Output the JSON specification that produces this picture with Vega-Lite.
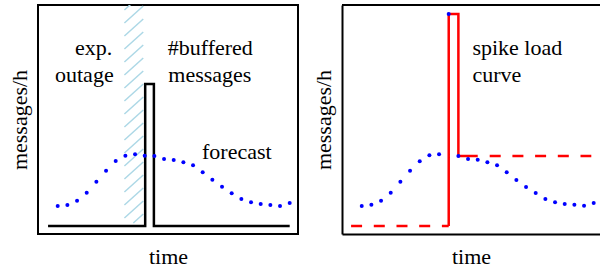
{
  "$schema": "https://vega.github.io/schema/vega-lite/v6.json",
  "background": "white",
  "padding": {"left": 7, "top": 4, "right": 0, "bottom": 0},
  "spacing": 13,
  "config": {
    "font": "Liberation Serif",
    "axis": {"grid": false, "labels": false, "ticks": false, "domain": false, "titleFont": "Liberation Serif", "titleFontSize": 22, "titleFontWeight": "normal", "titleColor": "black"},
    "axisX": {"titlePadding": 12},
    "axisY": {"titlePadding": 7},
    "text": {"font": "Liberation Serif", "fontSize": 22, "color": "black", "align": "left", "baseline": "alphabetic"}
  },
  "datasets": {
    "hatch": [
      {"x1": 7.82, "y1": 11, "x2": 8.85, "y2": 20},
      {"x1": 6.9, "y1": 16, "x2": 8.85, "y2": 33},
      {"x1": 6.9, "y1": 29, "x2": 8.85, "y2": 46},
      {"x1": 6.9, "y1": 42, "x2": 8.85, "y2": 59},
      {"x1": 6.9, "y1": 55, "x2": 8.85, "y2": 72},
      {"x1": 6.9, "y1": 68, "x2": 8.85, "y2": 85},
      {"x1": 6.9, "y1": 81, "x2": 8.85, "y2": 98},
      {"x1": 6.9, "y1": 94, "x2": 8.85, "y2": 111},
      {"x1": 6.9, "y1": 107, "x2": 8.85, "y2": 124},
      {"x1": 6.9, "y1": 120, "x2": 8.85, "y2": 137},
      {"x1": 6.9, "y1": 133, "x2": 8.85, "y2": 150},
      {"x1": 6.9, "y1": 146, "x2": 8.85, "y2": 163},
      {"x1": 6.9, "y1": 159, "x2": 8.85, "y2": 176},
      {"x1": 6.9, "y1": 172, "x2": 8.85, "y2": 189},
      {"x1": 6.9, "y1": 185, "x2": 8.85, "y2": 202},
      {"x1": 6.9, "y1": 198, "x2": 8.85, "y2": 215},
      {"x1": 6.9, "y1": 211, "x2": 8.85, "y2": 228},
      {"x1": 6.9, "y1": 224, "x2": 8.85, "y2": 241}
    ],
    "buffered": [
      {"i": 0, "t": -1, "v": 8},
      {"i": 1, "t": 9.05, "v": 8},
      {"i": 2, "t": 9.05, "v": 150},
      {"i": 3, "t": 9.95, "v": 150},
      {"i": 4, "t": 9.95, "v": 8},
      {"i": 5, "t": 24, "v": 8}
    ],
    "forecast_left": [
      {"t": 0, "v": 28}, {"t": 1, "v": 29}, {"t": 2, "v": 33.3}, {"t": 3, "v": 41.3}, {"t": 4, "v": 52.3},
      {"t": 5, "v": 63.3}, {"t": 6, "v": 73}, {"t": 7, "v": 78.3}, {"t": 8, "v": 79.7}, {"t": 9, "v": 78.3},
      {"t": 10, "v": 78}, {"t": 11, "v": 75}, {"t": 12, "v": 74}, {"t": 13, "v": 71.7}, {"t": 14, "v": 68.7},
      {"t": 15, "v": 61.7}, {"t": 16, "v": 54.3}, {"t": 17, "v": 47.3}, {"t": 18, "v": 40.7}, {"t": 19, "v": 35},
      {"t": 20, "v": 31.7}, {"t": 21, "v": 30}, {"t": 22, "v": 29}, {"t": 23, "v": 28}, {"t": 24, "v": 31}
    ],
    "forecast_right": [
      {"t": 0, "v": 28}, {"t": 1, "v": 29.3}, {"t": 2, "v": 33.3}, {"t": 3, "v": 41.3}, {"t": 4, "v": 52.3},
      {"t": 5, "v": 63.3}, {"t": 6, "v": 72.7}, {"t": 7, "v": 78.7}, {"t": 8, "v": 79.7}, {"t": 9, "v": 220},
      {"t": 10, "v": 78}, {"t": 11, "v": 75}, {"t": 12, "v": 74.3}, {"t": 13, "v": 71.7}, {"t": 14, "v": 68.7},
      {"t": 15, "v": 61.7}, {"t": 16, "v": 54}, {"t": 17, "v": 47}, {"t": 18, "v": 41}, {"t": 19, "v": 35},
      {"t": 20, "v": 31.7}, {"t": 21, "v": 30}, {"t": 22, "v": 29.3}, {"t": 23, "v": 28.3}, {"t": 24, "v": 31}
    ],
    "spike": [
      {"part": "pre", "i": 0, "t": -1.1, "v": 8},
      {"part": "pre", "i": 1, "t": 9, "v": 8},
      {"part": "solid", "i": 2, "t": 9, "v": 8},
      {"part": "solid", "i": 3, "t": 9, "v": 220},
      {"part": "solid", "i": 4, "t": 10, "v": 220},
      {"part": "solid", "i": 5, "t": 10, "v": 78},
      {"part": "solid", "i": 6, "t": 12, "v": 78},
      {"part": "post", "i": 7, "t": 13.24, "v": 78},
      {"part": "post", "i": 8, "t": 23.75, "v": 78}
    ],
    "labels_left": [
      {"label": "exp.", "t": 1.79, "v": 179},
      {"label": "outage", "t": -0.28, "v": 152.3},
      {"label": "#buffered", "t": 11.38, "v": 179},
      {"label": "messages", "t": 11.44, "v": 152.3},
      {"label": "forecast", "t": 14.93, "v": 74.7}
    ],
    "labels_right": [
      {"label": "spike load", "t": 11.45, "v": 179},
      {"label": "curve", "t": 11.45, "v": 152.3}
    ],
    "top_edge": [{"v": 229}]
  },
  "hconcat": [
    {
      "width": 260,
      "height": 229,
      "view": {"stroke": "black", "strokeWidth": 2},
      "layer": [
        {
          "data": {"name": "hatch"},
          "mark": {"type": "rule", "color": "#add8e6", "strokeWidth": 1.5, "clip": true},
          "encoding": {
            "x": {"field": "x1", "type": "quantitative", "scale": {"domain": [-2.04, 24.86], "nice": false, "zero": false}, "axis": {"title": "time"}},
            "x2": {"field": "x2"},
            "y": {"field": "y1", "type": "quantitative", "scale": {"domain": [0, 229], "nice": false, "zero": false}, "axis": {"title": "messages/h"}},
            "y2": {"field": "y2"}
          }
        },
        {
          "data": {"name": "buffered"},
          "mark": {"type": "line", "color": "black", "strokeWidth": 2.5, "strokeJoin": "miter"},
          "encoding": {
            "x": {"field": "t", "type": "quantitative", "scale": {"domain": [-2.04, 24.86], "nice": false, "zero": false}},
            "y": {"field": "v", "type": "quantitative", "scale": {"domain": [0, 229], "nice": false, "zero": false}},
            "order": {"field": "i"}
          }
        },
        {
          "data": {"name": "forecast_left"},
          "mark": {"type": "circle", "color": "#0000ff", "size": 16, "opacity": 1},
          "encoding": {
            "x": {"field": "t", "type": "quantitative", "scale": {"domain": [-2.04, 24.86], "nice": false, "zero": false}},
            "y": {"field": "v", "type": "quantitative", "scale": {"domain": [0, 229], "nice": false, "zero": false}}
          }
        },
        {
          "data": {"name": "labels_left"},
          "mark": {"type": "text", "font": "Liberation Serif", "fontSize": 22, "color": "black", "align": "left", "baseline": "alphabetic"},
          "encoding": {
            "x": {"field": "t", "type": "quantitative", "scale": {"domain": [-2.04, 24.86], "nice": false, "zero": false}},
            "y": {"field": "v", "type": "quantitative", "scale": {"domain": [0, 229], "nice": false, "zero": false}},
            "text": {"field": "label"}
          }
        }
      ]
    },
    {
      "width": 258,
      "height": 229,
      "view": {"stroke": null},
      "layer": [
        {
          "data": {"name": "spike"},
          "transform": [{"filter": "datum.part == 'solid'"}],
          "mark": {"type": "line", "color": "#ff0000", "strokeWidth": 2.5, "strokeJoin": "miter"},
          "encoding": {
            "x": {"field": "t", "type": "quantitative", "scale": {"domain": [-2.04, 24.65], "nice": false, "zero": false}, "axis": {"title": "time", "domain": true, "domainColor": "black", "domainWidth": 2}},
            "y": {"field": "v", "type": "quantitative", "scale": {"domain": [0, 229], "nice": false, "zero": false}, "axis": {"title": "messages/h", "domain": true, "domainColor": "black", "domainWidth": 2}},
            "order": {"field": "i"}
          }
        },
        {
          "data": {"name": "top_edge"},
          "mark": {"type": "rule", "color": "black", "strokeWidth": 2},
          "encoding": {
            "y": {"field": "v", "type": "quantitative", "scale": {"domain": [0, 229], "nice": false, "zero": false}}
          }
        },
        {
          "data": {"name": "spike"},
          "transform": [{"filter": "datum.part != 'solid'"}],
          "mark": {"type": "line", "color": "#ff0000", "strokeWidth": 2.5, "strokeDash": [11, 11.7]},
          "encoding": {
            "x": {"field": "t", "type": "quantitative", "scale": {"domain": [-2.04, 24.65], "nice": false, "zero": false}},
            "y": {"field": "v", "type": "quantitative", "scale": {"domain": [0, 229], "nice": false, "zero": false}},
            "detail": {"field": "part"},
            "order": {"field": "i"}
          }
        },
        {
          "data": {"name": "forecast_right"},
          "mark": {"type": "circle", "color": "#0000ff", "size": 16, "opacity": 1},
          "encoding": {
            "x": {"field": "t", "type": "quantitative", "scale": {"domain": [-2.04, 24.65], "nice": false, "zero": false}},
            "y": {"field": "v", "type": "quantitative", "scale": {"domain": [0, 229], "nice": false, "zero": false}}
          }
        },
        {
          "data": {"name": "labels_right"},
          "mark": {"type": "text", "font": "Liberation Serif", "fontSize": 22, "color": "black", "align": "left", "baseline": "alphabetic"},
          "encoding": {
            "x": {"field": "t", "type": "quantitative", "scale": {"domain": [-2.04, 24.65], "nice": false, "zero": false}},
            "y": {"field": "v", "type": "quantitative", "scale": {"domain": [0, 229], "nice": false, "zero": false}},
            "text": {"field": "label"}
          }
        }
      ]
    }
  ]
}
